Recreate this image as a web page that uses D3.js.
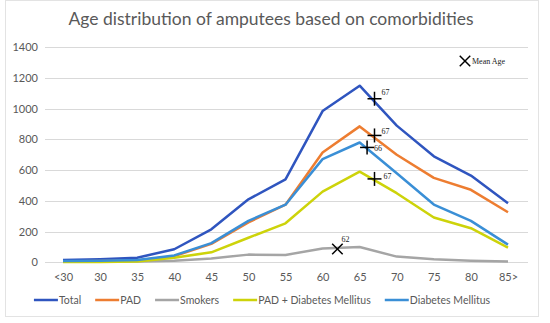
<!DOCTYPE html>
<html>
<head>
<meta charset="utf-8">
<script src="https://cdn.jsdelivr.net/npm/d3@7"></script>
<style>
  body { margin: 0; background: #fff; }
  svg { display: block; }
</style>
</head>
<body>
<svg id="chart" width="550" height="323"></svg>
<script>
// age groups along x
var ageGroups = ["<30", "30", "35", "40", "45", "50", "55", "60", "65", "70", "75", "80", "85>"];

// series values (number of amputees per age group)
var total    = [15, 20, 30, 85, 215, 410, 540, 985, 1150, 890, 690, 565, 385];
var pad      = [5, 8, 12, 40, 120, 260, 375, 715, 885, 700, 550, 472, 326];
var smokers  = [5, 5, 5, 10, 25, 50, 48, 90, 100, 37, 20, 10, 5];
var padDm    = [2, 2, 5, 30, 65, 160, 254, 460, 590, 450, 292, 222, 95];
var dm       = [8, 10, 15, 45, 125, 270, 375, 672, 780, 580, 376, 270, 115];

var yTicks = [0, 200, 400, 600, 800, 1000, 1200, 1400];

// mean age per group, and where the marker sits
var meanAges = [
  {name: "Total", age: 67, value: 1065, sym: "plus"},
  {name: "PAD", age: 67, value: 826, sym: "plus"},
  {name: "Diabetes Mellitus", age: 66, value: 748, sym: "plus"},
  {name: "PAD + Diabetes Mellitus", age: 67, value: 543, sym: "plus"},
  {name: "Smokers", age: 62, value: 87, sym: "cross"}
];
// where each mean age label sits relative to its marker
var meanLabelOffset = [[7, -4], [7, -1], [7, 4], [9, 0], [4, -7]];

var series = [
  {name: "Total", values: total, color: "#2f55bf"},
  {name: "PAD", values: pad, color: "#ed7d31"},
  {name: "Smokers", values: smokers, color: "#a5a5a5"},
  {name: "PAD + Diabetes Mellitus", values: padDm, color: "#cdd30a"},
  {name: "Diabetes Mellitus", values: dm, color: "#3a8fd6"}
];

var svg = d3.select("#chart");
var textColor = "#595959";
var labelFont = "Lato, sans-serif";

// outer frame
svg.append("rect")
  .attr("x", 5.5).attr("y", 0.5)
  .attr("width", 533).attr("height", 316)
  .attr("fill", "#fff")
  .attr("stroke", "#e3e3e3");

svg.append("text")
  .attr("x", 271).attr("y", 25)
  .attr("text-anchor", "middle")
  .attr("font-family", labelFont)
  .attr("font-size", 17.5)
  .attr("fill", textColor)
  .text("Age distribution of amputees based on comorbidities");

var x = d3.scalePoint().domain(ageGroups).range([63, 508]);
var y = d3.scaleLinear().domain([0, 1400]).range([262.3, 47.3]);

// numeric age -> position between the category points
var ageX = d3.scaleLinear().domain([25, 85]).range([x("<30"), x("85>")]);

// gridlines
svg.append("g").selectAll("line")
  .data(yTicks)
  .enter().append("line")
  .attr("x1", 45).attr("x2", 528)
  .attr("y1", function (d) { return Math.round(y(d)) + 0.5; })
  .attr("y2", function (d) { return Math.round(y(d)) + 0.5; })
  .attr("stroke", "#d9d9d9")
  .attr("stroke-width", 1);

// y axis labels
var yAxis = d3.axisLeft(y).tickValues(yTicks).tickFormat(d3.format("d")).tickSize(0).tickPadding(0);
var gy = svg.append("g").attr("transform", "translate(38,0)").call(yAxis);
gy.select(".domain").remove();
gy.selectAll("text")
  .attr("font-family", labelFont)
  .attr("font-size", 11)
  .attr("fill", textColor);

// x axis labels
var xAxis = d3.axisBottom(x).tickSize(0).tickPadding(0);
var gx = svg.append("g").attr("transform", "translate(0,273)").call(xAxis);
gx.select(".domain").remove();
gx.selectAll("text")
  .attr("font-family", labelFont)
  .attr("font-size", 11)
  .attr("fill", textColor);

// lines
var line = d3.line()
  .x(function (d, i) { return x(ageGroups[i]); })
  .y(function (d) { return y(d); });

svg.append("g").selectAll("path")
  .data(series)
  .enter().append("path")
  .attr("d", function (s) { return line(s.values); })
  .attr("fill", "none")
  .attr("stroke", function (s) { return s.color; })
  .attr("stroke-width", 2.5)
  .attr("stroke-linejoin", "round");

// mean age markers
function marker(g, sym, size) {
  var r = size;
  if (sym == "plus") {
    g.append("line").attr("x1", -r).attr("x2", r).attr("y1", 0).attr("y2", 0);
    g.append("line").attr("x1", 0).attr("x2", 0).attr("y1", -r).attr("y2", r);
  } else {
    var c = r * 0.75;
    g.append("line").attr("x1", -c).attr("x2", c).attr("y1", -c).attr("y2", c);
    g.append("line").attr("x1", -c).attr("x2", c).attr("y1", c).attr("y2", -c);
  }
  g.selectAll("line").attr("stroke", "#000").attr("stroke-width", 1.5);
}

var mg = svg.append("g").selectAll("g")
  .data(meanAges)
  .enter().append("g")
  .attr("transform", function (d) { return "translate(" + ageX(d.age) + "," + y(d.value) + ")"; })
  .each(function (d) { marker(d3.select(this), d.sym, 7); });

mg.append("text")
  .attr("x", function (d, i) { return meanLabelOffset[i][0]; })
  .attr("y", function (d, i) { return meanLabelOffset[i][1]; })
  .attr("font-family", "'Liberation Serif', serif")
  .attr("font-size", 8)
  .attr("fill", "#222")
  .text(function (d) { return d.age; });

// "Mean Age" key
var key = svg.append("g").attr("transform", "translate(465,61)");
marker(key, "cross", 7);
key.append("text")
  .attr("x", 7).attr("y", 3)
  .attr("font-family", "'Liberation Serif', serif")
  .attr("font-size", 8)
  .attr("fill", "#222")
  .text("Mean Age");

// legend, laid out left to right then centred
var lg = svg.append("g").attr("transform", "translate(0,300)");
var items = lg.selectAll("g")
  .data(series)
  .enter().append("g");

items.append("line")
  .attr("x1", 0).attr("x2", 24)
  .attr("stroke", function (d) { return d.color; })
  .attr("stroke-width", 2.5);

items.append("text")
  .attr("x", 25).attr("y", 3.8)
  .attr("font-family", labelFont)
  .attr("font-size", 10.5)
  .attr("fill", textColor)
  .text(function (d) { return d.name; });

var cursor = 0;
items.each(function () {
  var w = 25 + this.querySelector("text").getComputedTextLength();
  d3.select(this).attr("transform", "translate(" + cursor + ",0)");
  cursor += w + 14;
});
var legendW = cursor - 14;
lg.attr("transform", "translate(" + (262 - legendW / 2) + ",300)");
</script>
</body>
</html>
